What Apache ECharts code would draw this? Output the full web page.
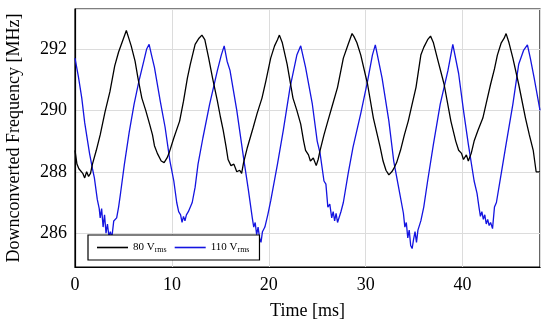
<!DOCTYPE html>
<html>
<head>
<meta charset="utf-8">
<script src="https://cdn.jsdelivr.net/npm/echarts@6/dist/echarts.min.js"></script>
<style>html,body{margin:0;padding:0;background:#fff}#c{width:550px;height:325px}</style>
</head>
<body>
<div id="c"></div>
<script>
var xTicks = [0, 10, 20, 30, 40];
var yTicks = [286, 288, 290, 292];
var seriesNames = ['80 Vrms', '110 Vrms'];

var t80 = [0,0.2,0.4,0.6,0.8,1.0,1.2,1.4,1.6,1.8,2.2,2.6,3.1,3.6,4.1,4.5,4.9,5.1,5.3,5.5,5.8,6.2,6.5,6.9,7.3,7.7,8.0,8.2,8.5,8.9,9.2,9.5,9.7,10.2,10.8,11.2,11.6,11.9,12.4,12.8,13.1,13.4,13.8,14.2,14.7,15.0,15.3,15.6,15.8,16.1,16.4,16.7,17.0,17.2,17.4,17.8,18.4,18.8,19.3,19.7,20.2,20.6,20.9,21.1,21.4,21.9,22.5,22.9,23.3,23.6,23.8,24.1,24.3,24.6,24.9,25.1,25.3,25.7,26.1,26.6,27.1,27.7,28.2,28.6,28.8,29.1,29.5,30.2,30.8,31.5,31.8,32.1,32.4,32.7,32.9,33.2,33.6,34.0,34.4,34.8,35.2,35.7,36.0,36.4,36.7,37.0,37.4,38.1,38.8,39.3,39.6,39.9,40.1,40.4,40.6,40.9,41.2,41.6,42.1,42.5,42.9,43.3,43.6,44.0,44.3,44.5,44.8,45.2,45.8,46.5,46.9,47.3,47.6,47.8,48.0];
var v80 = [288.7,288.25,288.1,288.15,287.95,287.8,288.0,287.85,287.95,288.25,288.7,289.2,289.95,290.6,291.45,291.9,292.25,292.3,292.6,292.4,292.1,291.6,291.05,290.4,290.0,289.55,289.2,288.85,288.6,288.35,288.3,288.45,288.6,289.1,289.65,290.3,291.05,291.5,292.15,292.35,292.45,292.3,291.7,291.05,290.3,289.8,289.35,288.8,288.4,288.2,288.25,288.0,288.05,287.95,288.3,288.8,289.45,289.9,290.4,290.95,291.7,292.1,292.3,292.45,292.2,291.5,290.4,290.0,289.55,289.0,288.7,288.55,288.35,288.45,288.2,288.4,288.7,289.2,289.65,290.2,290.75,291.7,292.15,292.5,292.4,292.2,291.8,290.85,289.75,288.8,288.35,288.05,287.9,288.0,288.1,288.3,288.7,289.2,289.65,290.2,290.75,291.8,292.05,292.3,292.42,292.2,291.7,290.85,289.65,289.0,288.7,288.6,288.4,288.55,288.35,288.6,289.0,289.35,289.75,290.3,290.85,291.35,291.8,292.2,292.35,292.5,292.2,291.7,290.85,289.75,289.2,288.7,288.0,288.05,288.0];

var t110 = [0,0.35,0.7,1.0,1.3,1.5,1.8,2.0,2.3,2.5,2.6,2.75,2.9,3.05,3.2,3.35,3.5,3.65,3.8,4.0,4.15,4.3,4.5,4.7,5.1,5.6,6.1,6.6,7.1,7.4,7.65,7.9,8.2,8.8,9.3,9.8,10.2,10.5,10.7,10.9,11.05,11.2,11.35,11.5,11.7,11.9,12.1,12.4,12.7,13.2,13.9,14.7,15.1,15.4,15.7,16.0,16.7,17.4,17.9,18.3,18.45,18.6,18.75,18.9,19.05,19.2,19.35,19.6,19.9,20.2,20.9,21.5,22.2,22.9,23.3,23.8,24.5,25.0,25.3,25.7,25.9,26.1,26.3,26.5,26.65,26.8,26.95,27.1,27.25,27.45,27.6,27.7,28.2,28.7,29.5,30.2,30.7,31.0,31.7,32.4,32.9,33.4,33.9,34.05,34.2,34.35,34.5,34.65,34.8,34.95,35.1,35.25,35.4,35.55,35.7,36.0,36.4,37.0,37.7,38.5,39.0,39.6,40.1,40.6,41.2,41.5,41.7,41.85,42.0,42.15,42.3,42.45,42.6,42.75,42.9,43.1,43.3,43.5,44.0,44.5,45.2,45.8,46.3,46.7,47.0,47.4,48.0];
var v110 = [291.7,291.1,290.4,289.6,289.0,288.6,288.1,287.8,287.1,286.8,286.5,286.8,286.2,286.6,286.0,286.3,285.9,286.05,285.85,286.4,286.45,286.5,286.85,287.3,288.25,289.3,290.2,290.95,291.6,292.0,292.15,291.8,291.4,290.3,289.45,288.35,287.7,287.0,286.7,286.6,286.35,286.55,286.4,286.6,286.7,286.75,287.0,287.5,288.25,289.1,290.2,291.3,291.8,292.1,291.6,291.3,290.0,288.45,287.4,286.5,286.2,286.35,285.95,286.2,285.85,285.7,286.05,286.2,286.6,287.05,288.25,289.35,290.75,291.8,292.1,291.4,290.2,289.0,288.6,287.7,287.6,286.85,286.95,286.5,286.7,286.4,286.65,286.35,286.3,286.7,286.65,287.0,287.95,288.8,289.9,290.95,291.8,292.13,291.05,289.65,288.35,287.5,286.65,286.2,286.35,285.85,286.1,285.6,285.5,285.8,286.05,285.7,286.1,286.05,286.4,286.85,287.7,288.9,290.2,291.3,292.15,291.2,290.0,288.9,287.7,287.3,286.85,286.55,286.7,286.45,286.6,286.3,286.45,286.25,286.35,286.15,286.85,287.0,287.95,288.9,290.2,291.5,291.95,292.13,291.7,291.05,290.0];

function pairs(t, v) { return t.map(function (x, i) { return [x, v[i]]; }); }

var FONT = '"Liberation Serif", "DejaVu Serif", serif';
var chart = echarts.init(document.getElementById('c'), null, { renderer: 'canvas' });
chart.setOption({
  animation: false,
  backgroundColor: '#fff',
  textStyle: { fontFamily: FONT },
  grid: { left: 75, top: 9, right: 10, bottom: 58, outerBoundsMode: 'none', containLabel: false,
    show: true, borderColor: '#000', borderWidth: 1.2, backgroundColor: 'transparent' },
  legend: {
    left: 88, top: 235,
    orient: 'horizontal',
    backgroundColor: '#fff',
    borderColor: '#000', borderWidth: 1.2, borderRadius: 0,
    padding: [6, 10, 6, 9],
    icon: 'rect',
    itemWidth: 31, itemHeight: 1.6, itemGap: 8,
    data: seriesNames,
    formatter: function (n) { return n.replace('Vrms', 'V{s|rms}'); },
    textStyle: {
      fontFamily: FONT, fontSize: 11, color: '#000', lineHeight: 13,
      rich: { s: { fontFamily: FONT, fontSize: 8, color: '#000', padding: [4, 0, 0, 0] } }
    }
  },
  xAxis: {
    type: 'value', min: 0, max: 48, interval: 10,
    name: 'Time [ms]', nameLocation: 'middle', nameGap: 35,
    nameTextStyle: { fontFamily: FONT, fontSize: 18, color: '#000' },
    axisLine: { show: true, onZero: false, lineStyle: { color: '#000', width: 1.2 } },
    axisTick: { show: false },
    axisLabel: { fontFamily: FONT, fontSize: 18, color: '#000', margin: 9, showMaxLabel: false,
      formatter: function (v) { return xTicks.indexOf(v) >= 0 ? String(v) : ''; } },
    splitLine: { show: true, lineStyle: { color: '#dcdcdc', width: 1 } }
  },
  yAxis: {
    type: 'value', min: 284.9, max: 293.3, splitNumber: 4,
    name: 'Downconverted Frequency [MHz]', nameLocation: 'middle', nameGap: 52, nameRotate: 90,
    nameTextStyle: { fontFamily: FONT, fontSize: 18, color: '#000' },
    axisLine: { show: true, onZero: false, lineStyle: { color: '#000', width: 1.2 } },
    axisTick: { show: false },
    axisLabel: { fontFamily: FONT, fontSize: 18, color: '#000', margin: 8, showMinLabel: false, showMaxLabel: false,
      formatter: function (v) { return yTicks.indexOf(v) >= 0 ? String(v) : ''; } },
    splitLine: { show: true, lineStyle: { color: '#dcdcdc', width: 1 } }
  },
  series: [
    { name: seriesNames[0], type: 'line', symbol: 'none', showSymbol: false, data: pairs(t80, v80),
      lineStyle: { color: '#000', width: 1.3 }, itemStyle: { color: '#000' }, z: 3 },
    { name: seriesNames[1], type: 'line', symbol: 'none', showSymbol: false, data: pairs(t110, v110),
      lineStyle: { color: '#1414e0', width: 1.3 }, itemStyle: { color: '#1414e0' }, z: 2 }
  ]
});
</script>
</body>
</html>
